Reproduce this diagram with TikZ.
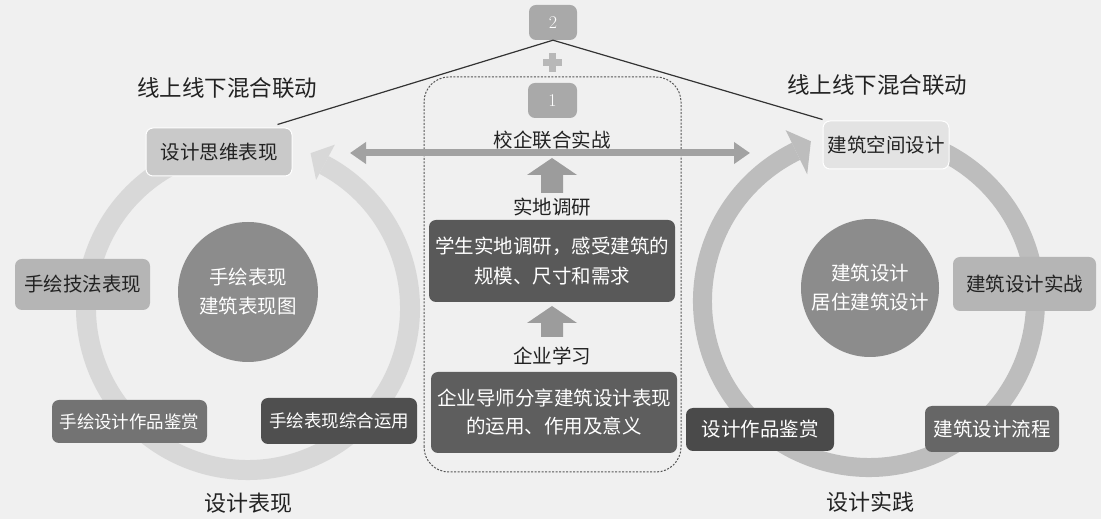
\documentclass[tikz,border=0pt]{standalone}
\usepackage{fontspec}
\newfontfamily\cjk{Noto Sans CJK SC}
\usetikzlibrary{arrows.meta}
\definecolor{bg}{HTML}{F0F0F0}
\definecolor{ringL}{HTML}{D8D8D8}
\definecolor{ringR}{HTML}{BDBDBD}
\definecolor{txtdark}{HTML}{222222}
\definecolor{numbox}{HTML}{A9A9A9}
\definecolor{plusc}{HTML}{B8B8B8}
\definecolor{uparrow}{HTML}{9C9C9C}
\definecolor{harrowc}{HTML}{A2A2A2}
\definecolor{linec}{HTML}{333333}
\definecolor{dashc}{HTML}{555555}
\tikzset{
  boxstyle/.style={rounded corners=7pt, inner sep=0pt, align=center},
  lightbox/.style={boxstyle, text=txtdark, draw=white, line width=1pt},
  darkbox/.style={boxstyle, text=white},
  circ/.style={circle, inner sep=0pt, align=center, text=white, fill=#1},
  plainlabel/.style={inner sep=0pt, text=txtdark, align=center},
  connector/.style={draw=linec, line width=1.2pt},
  harrow/.style={draw=harrowc, line width=7pt, {Triangle[length=16pt,width=21pt]}-{Triangle[length=16pt,width=21pt]}},
}
\begin{document}
\begin{tikzpicture}[x=1pt,y=1pt, font=\cjk\fontsize{19.5}{29}\selectfont]
\useasboundingbox (0,0) rectangle (1101,519);
\fill[bg] (0,0) rectangle (1101,519);

% left ring
\fill[ringL] ([shift={(248,211)}]-260:172) arc[start angle=-260,end angle=62,radius=172]
  -- ([shift={(248,211)}]62:152) arc[start angle=62,end angle=-260,radius=152] -- cycle;
\fill[ringL] ([shift={(248,211)}]62:145) -- ([shift={(248,211)}]62:185) -- ([shift={(248,211)}]68:167) -- cycle;

% right ring
\fill[ringR] ([shift={(869,218)}]116:176) arc[start angle=116,end angle=440,radius=176]
  -- ([shift={(869,218)}]440:157) arc[start angle=440,end angle=116,radius=157] -- cycle;
\fill[ringR] ([shift={(869,218)}]116:141) -- ([shift={(869,218)}]116:190) -- ([shift={(869,218)}]110:170) -- cycle;

% dashed frame
\draw[dashc, line width=1pt, dash pattern=on 2pt off 1.5pt, rounded corners=25pt] (424,47) rectangle (681,442);

% number boxes and plus
\node[darkbox, fill=numbox, minimum width=48pt, minimum height=35pt, font=\rmfamily\fontsize{18}{20}\selectfont] (b2) at (553,496.5) {2};
\node[darkbox, fill=numbox, minimum width=49pt, minimum height=35pt, font=\rmfamily\fontsize{18}{20}\selectfont] (b1) at (552.5,418.5) {1};
\fill[plusc] (542.5,452.5) rectangle (561.5,459.5);
\fill[plusc] (548.5,446.5) rectangle (555.5,465.5);

% left side nodes
\node[lightbox, fill=black!21, minimum width=146pt, minimum height=48pt] (lt) at (219,367) {设计思维表现};
\node[lightbox, fill=black!29, minimum width=135pt, minimum height=51pt, draw=none] (ll) at (82.5,234.5) {手绘技法表现};
\node[circ=black!45, minimum size=140pt] (lc) at (248,227) {手绘表现\\建筑表现图};
\node[darkbox, fill=black!55, minimum width=155pt, minimum height=43pt, font=\cjk\fontsize{17.5}{20}\selectfont] (lb1) at (129.5,97.5) {手绘设计作品鉴赏};
\node[darkbox, fill=black!69, minimum width=156pt, minimum height=46pt, font=\cjk\fontsize{17.5}{20}\selectfont] (lb2) at (339,98) {手绘表现综合运用};
\node[plainlabel, font=\cjk\fontsize{22}{24}\selectfont] (lbl1) at (248,16) {设计表现};
\node[plainlabel, font=\cjk\fontsize{22.5}{24}\selectfont] (top1) at (227,431) {线上线下混合联动};

% right side nodes
\node[lightbox, fill=black!11, minimum width=126pt, minimum height=48pt] (rt) at (886,374) {建筑空间设计};
\node[lightbox, fill=black!29, minimum width=143pt, minimum height=54pt, draw=none] (rr) at (1024.5,235) {建筑设计实战};
\node[circ=black!45, minimum size=138pt] (rc) at (870,231) {建筑设计\\居住建筑设计};
\node[darkbox, fill=black!71, minimum width=148pt, minimum height=43pt] (rb1) at (760,89.5) {设计作品鉴赏};
\node[darkbox, fill=black!60, minimum width=134pt, minimum height=46pt] (rb2) at (992,90) {建筑设计流程};
\node[plainlabel, font=\cjk\fontsize{22}{24}\selectfont] (lbl2) at (870,17) {设计实践};
\node[plainlabel, font=\cjk\fontsize{22.5}{24}\selectfont] (top2) at (877,434) {线上线下混合联动};

% centre column
\node[plainlabel] (t1) at (552,379) {校企联合实战};
\coordinate (hl) at (350,366);
\coordinate (hr) at (750,366);
\draw[harrow] (hl) -- (hr);
\fill[uparrow] (552,361) -- (577,344) -- (563,344) -- (563,326) -- (541,326) -- (541,344) -- (527,344) -- cycle;
\node[plainlabel] (t2) at (552,312) {实地调研};
\node[darkbox, fill=black!65, minimum width=246pt, minimum height=82pt, font=\cjk\fontsize{19.5}{30}\selectfont] (d1) at (552,258) {学生实地调研，感受建筑的\\规模、尺寸和需求};
\fill[uparrow] (552,213) -- (577,196) -- (563,196) -- (563,182) -- (541,182) -- (541,196) -- (527,196) -- cycle;
\node[plainlabel] (t3) at (552,163) {企业学习};
\node[darkbox, fill=black!63, minimum width=246pt, minimum height=81pt, font=\cjk\fontsize{19.5}{28}\selectfont] (d2) at (554,106.5) {企业导师分享建筑设计表现\\的运用、作用及意义};

% connectors
\draw[connector] (b2.south) -- ([xshift=-15pt,yshift=3pt]lt.north east);
\draw[connector] (b2.south) -- ([yshift=1pt]rt.north west);
\end{tikzpicture}
\end{document}
